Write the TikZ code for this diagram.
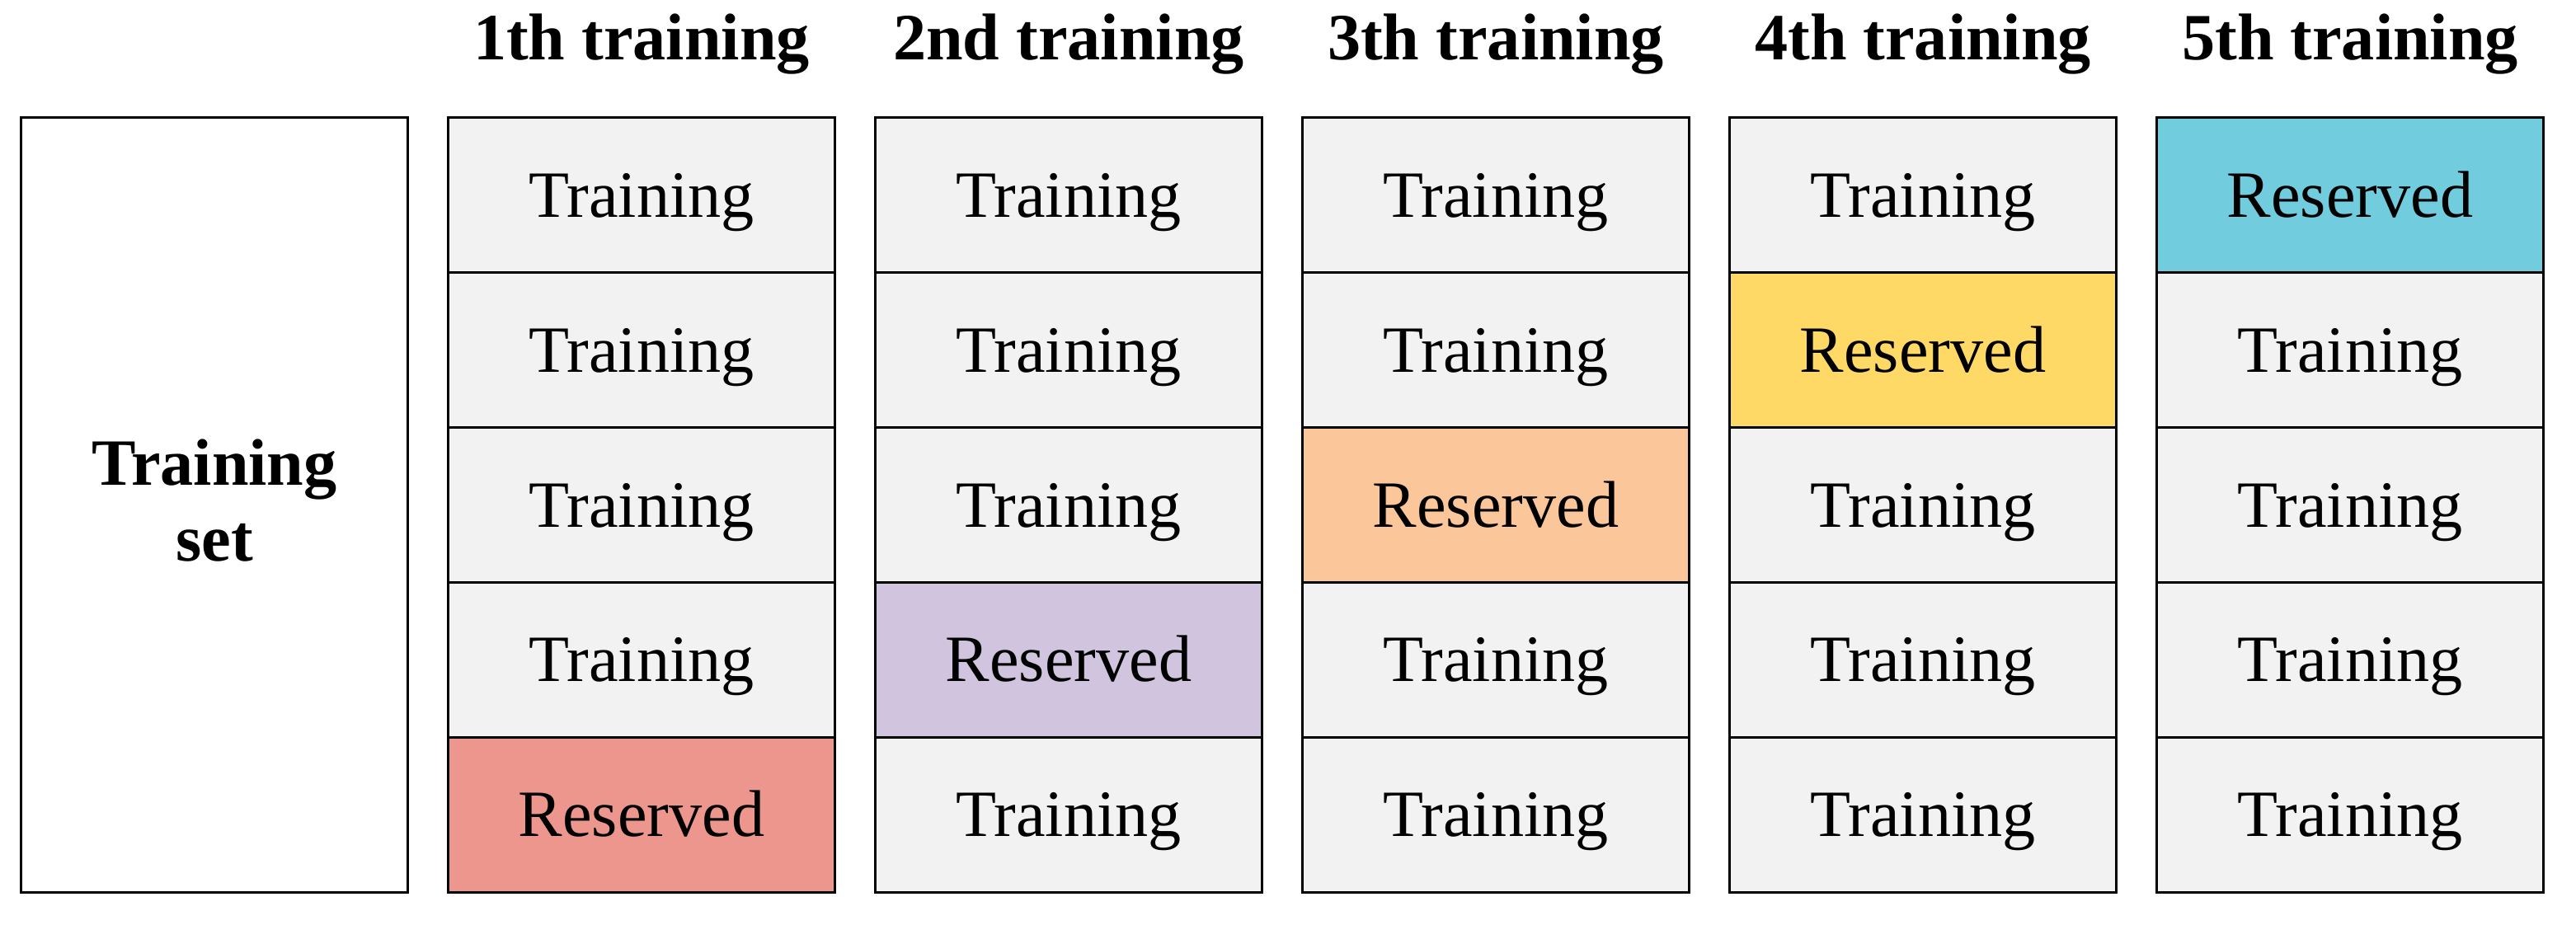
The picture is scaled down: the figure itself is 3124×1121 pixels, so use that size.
\documentclass[tikz,border=0pt]{standalone}
\usepackage{fontspec}
\setmainfont{Liberation Serif}
\definecolor{cellgray}{HTML}{F2F2F2}
\definecolor{resred}{HTML}{ED968E}
\definecolor{respurple}{HTML}{D0C4DE}
\definecolor{resorange}{HTML}{FBC79A}
\definecolor{resyellow}{HTML}{FFD966}
\definecolor{rescyan}{HTML}{71CDDE}
\begin{document}
\begin{tikzpicture}[x=0.01cm,y=-0.01cm,
  cell/.style={draw, line width=0.03cm, minimum width=4.68cm, minimum height=1.878cm,
    inner sep=0pt, text height=15.1pt, text depth=0pt,
    font=\fontsize{22.8pt}{26pt}\selectfont, fill=cellgray},
  head/.style={anchor=base, inner sep=0pt, font=\fontsize{22.8pt}{26pt}\selectfont\bfseries},
  setbox/.style={draw, line width=0.03cm, minimum width=4.68cm, minimum height=9.39cm, inner sep=0pt, fill=white},
  setlabel/.style={align=center, inner sep=0pt, font=\fontsize{22.8pt}{26.2pt}\selectfont\bfseries}]
\useasboundingbox (0,0) rectangle (3124,1121);
\node[setbox] (tset) at (260,612.5) {};
\node[setlabel] (tsetlabel) at (260,607) {Training\\set};
\foreach \c/\lab/\res/\col in {1/1th/5/resred, 2/2nd/4/respurple, 3/3th/3/resorange, 4/4th/2/resyellow, 5/5th/1/rescyan}{
  \pgfmathsetmacro{\xc}{778+518*(\c-1)}
  \node[head] (h\c) at (\xc,72) {\lab\ training};
  \foreach \r in {1,...,5}{
    \pgfmathsetmacro{\yc}{143+187.8*(\r-0.5)}
    \ifnum\r=\res
      \node[cell, fill=\col] (c\c r\r) at (\xc,\yc) {Reserved};
    \else
      \node[cell] (c\c r\r) at (\xc,\yc) {Training};
    \fi
  }
}
\end{tikzpicture}
\end{document}
